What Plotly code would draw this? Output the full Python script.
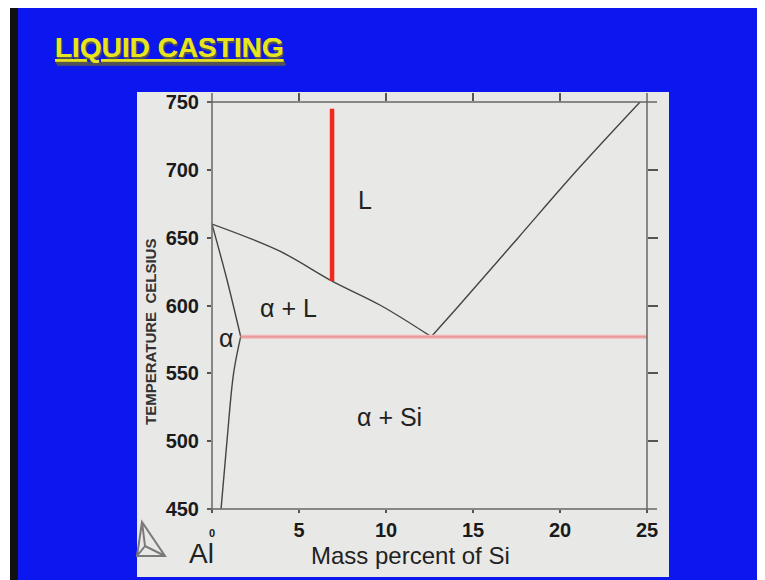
import plotly.graph_objects as go

# ---- data ----
liq_al_x = [0, 3.9, 6.9, 9.7, 12.6]
liq_al_t = [660, 640, 618, 600, 577]
liq_si_x = [12.6, 14.2, 17.6, 21.0, 24.6]
liq_si_t = [577, 600, 650, 700, 750]
solidus_x = [0, 0.86, 1.65]
solidus_t = [660, 619, 577]
solvus_x = [1.65, 1.24, 0.86, 0.52]
solvus_t = [577, 550, 500, 450]
eutectic_x = [1.65, 25]
eutectic_t = [577, 577]
cast_x = [6.9, 6.9]
cast_t = [745, 618]

x_ticks = [0, 5, 10, 15, 20, 25]
x_ticktext = ['<span style="font-size:11px">0</span>', '5', '10', '15', '20', '25']
y_ticks = [450, 500, 550, 600, 650, 700, 750]

region_labels = ["L", "α + L", "α", "α + Si"]
region_x = [8.8, 4.4, 0.8, 10.2]
region_t = [678, 598, 576, 518]

BLUE = "#0c16ee"
PANEL = "#e8e9e7"
LINE = "#444444"
FONT = "Liberation Sans, Arial, sans-serif"

fig = go.Figure()
for xs, ts in [(liq_al_x, liq_al_t), (liq_si_x, liq_si_t), (solidus_x, solidus_t), (solvus_x, solvus_t)]:
    fig.add_trace(go.Scatter(x=xs, y=ts, mode="lines", line=dict(color=LINE, width=1.4),
                             line_shape="spline", showlegend=False, hoverinfo="skip"))
fig.add_trace(go.Scatter(x=eutectic_x, y=eutectic_t, mode="lines",
                         line=dict(color="#f2b4b4", width=4), showlegend=False, hoverinfo="skip"))
fig.add_trace(go.Scatter(x=eutectic_x, y=eutectic_t, mode="lines",
                         line=dict(color="#e89898", width=1.5), showlegend=False, hoverinfo="skip"))
fig.add_trace(go.Scatter(x=cast_x, y=cast_t, mode="lines",
                         line=dict(color="#f0281e", width=4.5), showlegend=False, hoverinfo="skip"))
# empty trace so the mirrored (top/right) axes exist
fig.add_trace(go.Scatter(x=[], y=[], xaxis="x2", yaxis="y2", showlegend=False))

for txt, xv, tv in zip(region_labels, region_x, region_t):
    fig.add_annotation(x=xv, y=tv, text=txt, showarrow=False, xanchor="center", yanchor="middle",
                       font=dict(family=FONT, size=25, color="#222"))

tickfont = dict(family=FONT, size=20, color="#1a1a1a", weight="bold")
# the page body has an 8px margin: the figure starts at (8, 8) in the window
fig.update_layout(
    width=757, height=572,
    margin=dict(l=204, r=118, t=94, b=71),
    paper_bgcolor=BLUE, plot_bgcolor=PANEL,
    xaxis=dict(range=[0, 25], tickvals=x_ticks, ticktext=x_ticktext, ticks="outside",
               ticklen=3, tickwidth=1.5, tickcolor="#555", showline=False, showgrid=False,
               zeroline=False, tickfont=tickfont, fixedrange=True),
    yaxis=dict(range=[450, 750], tickvals=y_ticks, ticks="outside", ticklen=4, tickwidth=1.5,
               tickcolor="#555", showline=False, showgrid=False, zeroline=False,
               tickfont=tickfont, ticklabelstandoff=4, fixedrange=True),
    xaxis2=dict(range=[0, 25], overlaying="x", side="top", tickvals=[5, 10, 15, 20],
                ticks="outside", ticklen=8, tickwidth=1.5, tickcolor="#555",
                showticklabels=False, showgrid=False, zeroline=False, showline=False),
    yaxis2=dict(range=[450, 750], overlaying="y", side="right", tickvals=[500, 550, 600, 650, 700],
                ticks="outside", ticklen=10, tickwidth=1.5, tickcolor="#555",
                showticklabels=False, showgrid=False, zeroline=False, showline=False),
)


def px(x, y):
    """window pixel -> paper coordinates (plot area spans x 212..647, y 102..509)"""
    return (x - 212) / 435, (509 - y) / 407


shapes = [
    # white/black left strip of the slide capture
    dict(type="rect", xref="paper", yref="paper", x0=px(0, 0)[0], x1=px(10, 0)[0],
         y0=px(0, 580)[1], y1=px(0, 0)[1], fillcolor="white", line_width=0, layer="below"),
    dict(type="rect", xref="paper", yref="paper", x0=px(10, 0)[0], x1=px(18, 0)[0],
         y0=px(0, 580)[1], y1=px(0, 8)[1], fillcolor="#111", line_width=0, layer="below"),
    # grey chart panel
    dict(type="rect", xref="paper", yref="paper", x0=px(137, 0)[0], x1=px(669, 0)[0],
         y0=px(0, 577)[1], y1=px(0, 92)[1], fillcolor=PANEL, line_width=0, layer="below"),
    # frame lines (extending slightly past the corners)
    dict(type="line", xref="paper", yref="paper", x0=px(207, 0)[0], x1=px(657, 0)[0], y0=1, y1=1,
         line=dict(color="#666", width=1.5)),
    dict(type="line", xref="paper", yref="paper", x0=px(207, 0)[0], x1=px(657, 0)[0], y0=0, y1=0,
         line=dict(color="#666", width=1.5)),
    dict(type="line", xref="paper", yref="paper", x0=0, x1=0, y0=px(0, 510)[1], y1=px(0, 93)[1],
         line=dict(color="#666", width=1.5)),
    dict(type="line", xref="paper", yref="paper", x0=1, x1=1, y0=px(0, 510)[1], y1=px(0, 93)[1],
         line=dict(color="#666", width=1.5)),
]

# Thermo-Calc style logo (tetrahedron outline)
top = px(142, 522); bl = px(137, 556); br = px(165, 556); inner = px(145, 546)
path = (f"M {top[0]},{top[1]} L {bl[0]},{bl[1]} L {br[0]},{br[1]} Z "
        f"M {top[0]},{top[1]} L {inner[0]},{inner[1]} L {bl[0]},{bl[1]} "
        f"M {inner[0]},{inner[1]} L {br[0]},{br[1]}")
shapes.append(dict(type="path", xref="paper", yref="paper", path=path,
                   line=dict(color="#7a7a7a", width=2)))
fig.update_layout(shapes=shapes)


def paper_text(text, x, y, font, angle=0):
    px_, py_ = px(x, y)
    fig.add_annotation(xref="paper", yref="paper", x=px_, y=py_, text=text, showarrow=False,
                       xanchor="center", yanchor="middle", textangle=angle, font=font)


paper_text("Mass percent of Si", 410, 555, dict(family=FONT, size=24, color="#222"))
paper_text("Al", 201, 553, dict(family=FONT, size=28, color="#222"))
paper_text("TEMPERATURE  CELSIUS", 150, 332,
           dict(family=FONT, size=15, color="#333", weight="bold"), angle=-90)
paper_text("LIQUID CASTING", 169.5, 48,
           dict(family=FONT, size=28, color="#e8e41e", weight="bold",
                lineposition="under", shadow="1px 2px 1px #555"))

fig.write_html("out.html")
